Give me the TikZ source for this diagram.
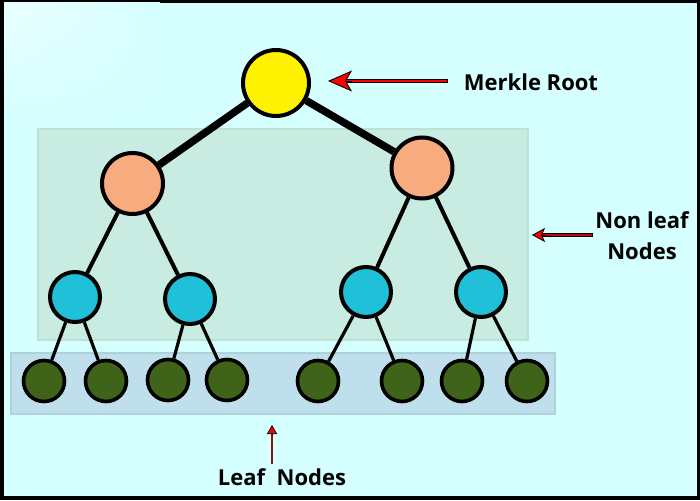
\documentclass[tikz,border=0pt]{standalone}
\usepackage{fontspec}
\setmainfont{Open Sans}
\usetikzlibrary{arrows.meta,calc,shadings}
\definecolor{bgc}{HTML}{D6FFFF}
\definecolor{bgl}{HTML}{EAFFFF}
\definecolor{nlrect}{HTML}{C8ECE2}
\definecolor{nlrectb}{HTML}{BCE2D6}
\definecolor{lfrect}{HTML}{BEDFEB}
\definecolor{lfrectb}{HTML}{ADD2D9}
\definecolor{rootc}{HTML}{FFF200}
\definecolor{midc}{HTML}{F9AB80}
\definecolor{lowc}{HTML}{20C0D8}
\definecolor{leafc}{HTML}{3F6419}
\definecolor{darkred}{HTML}{8B1010}
\tikzset{
  x=1pt,y=-1pt,
  hnode/.style={circle,draw=black,line width=4pt,inner sep=0pt},
  rootnode/.style={hnode,fill=rootc,minimum size=66pt},
  midnode/.style={hnode,fill=midc,minimum size=61pt},
  lownode/.style={hnode,fill=lowc,minimum size=50pt},
  leafnode/.style={hnode,fill=leafc,minimum size=41pt,line width=3.6pt},
  lbl/.style={font=\bfseries\fontsize{22}{31}\selectfont,align=center,inner sep=0pt},
}
\begin{document}
\begin{tikzpicture}
\useasboundingbox (0,0) rectangle (700,500);
\fill[black] (0,0) rectangle (700,500);
\fill[bgc] (4,3) rectangle (697,496);
\shade[upper left=bgl,upper right=bgc,lower left=bgc,lower right=bgc] (4,3) rectangle (160,120);
% group rectangles
\draw[fill=nlrect,draw=nlrectb,line width=1.5pt] (38,129) rectangle (528,340);
\draw[fill=lfrect,draw=lfrectb,line width=1.5pt] (11,353) rectangle (555,414);
% nodes
\node[rootnode] (r) at (276,83) {};
\node[midnode] (a) at (132.5,183.5) {};
\node[midnode] (b) at (422,168) {};
\node[lownode] (a1) at (75,297) {};
\node[lownode] (a2) at (190,299) {};
\node[lownode] (b1) at (366,292) {};
\node[lownode] (b2) at (481,292) {};
\node[leafnode] (l1) at (44,381) {};
\node[leafnode] (l2) at (106,381) {};
\node[leafnode] (l3) at (168,380) {};
\node[leafnode] (l4) at (227,380) {};
\node[leafnode] (l5) at (318,381) {};
\node[leafnode] (l6) at (402,381) {};
\node[leafnode] (l7) at (462,381) {};
\node[leafnode] (l8) at (527,381) {};
% edges
\draw[line width=7.5pt] (r) -- (a);
\draw[line width=7.5pt] (r) -- (b);
\draw[line width=4pt] (a) -- (a1);
\draw[line width=4pt] (a) -- (a2);
\draw[line width=4pt] (b) -- (b1);
\draw[line width=4pt] (b) -- (b2);
\draw[line width=3.2pt] (a1) -- (l1);
\draw[line width=3.2pt] (a1) -- (l2);
\draw[line width=3.2pt] (a2) -- (l3);
\draw[line width=3.2pt] (a2) -- (l4);
\draw[line width=3.2pt] (b1) -- (l5);
\draw[line width=3.2pt] (b1) -- (l6);
\draw[line width=3.2pt] (b2) -- (l7);
\draw[line width=3.2pt] (b2) -- (l8);
% labels
\node[lbl] (tr) at (531,82) {Merkle Root};
\node[lbl] (tn) at (642,236) {Non leaf\\Nodes};
\node[lbl] (tl) at (282,477) {Leaf\ \ Nodes};
% arrow coordinates
\coordinate (m0) at (448,81);
\coordinate (m1) at (328,81);
\coordinate (n0) at (593,235);
\coordinate (n1) at (532,235);
\coordinate (f0) at (272,464);
\coordinate (f1) at (272,425);
% Merkle arrow
\draw[black,line width=4.4pt] (m0) -- ($(m1)!17pt!(m0)$);
\draw[red,line width=2.2pt] ($(m0)!0.7pt!(m1)$) -- ($(m1)!16pt!(m0)$);
\draw[line width=0.9pt,-{Stealth[length=24pt,width=21pt,inset=6pt,fill=red]}] ($(m1)!24pt!(m0)$) -- (m1);
% Non leaf arrow
\draw[black,line width=3.4pt] (n0) -- ($(n1)!10pt!(n0)$);
\draw[darkred!60!red,line width=1.6pt] ($(n0)!0.7pt!(n1)$) -- ($(n1)!9pt!(n0)$);
\draw[line width=0.8pt,-{Stealth[length=13pt,width=14pt,inset=3pt,fill=red]}] ($(n1)!13pt!(n0)$) -- (n1);
% Leaf arrow
\draw[darkred,line width=2pt] (f0) -- ($(f1)!8pt!(f0)$);
\draw[line width=0.7pt,-{Triangle[length=9pt,width=10pt,fill=red]}] ($(f1)!9pt!(f0)$) -- (f1);
\end{tikzpicture}
\end{document}
